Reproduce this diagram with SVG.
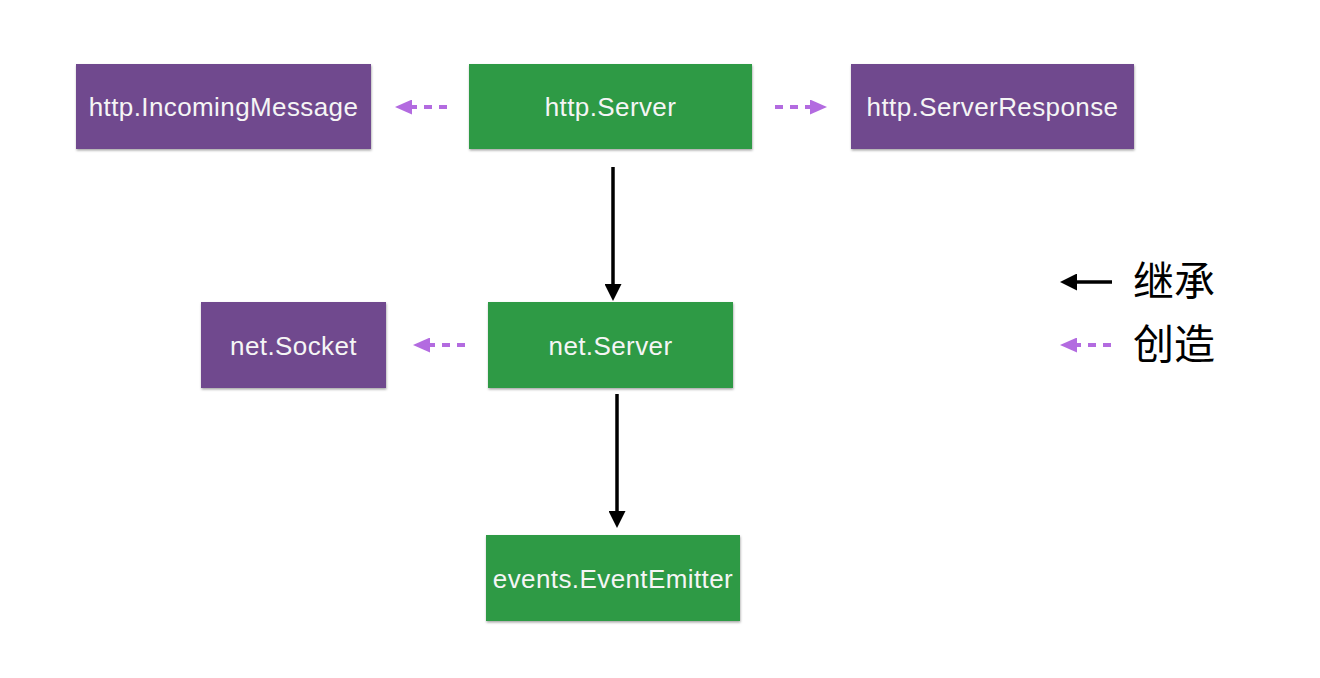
<svg xmlns="http://www.w3.org/2000/svg" width="1320" height="678" viewBox="0 0 1320 678">
  <defs>
    <filter id="sh" x="-5%" y="-10%" width="110%" height="125%">
      <feDropShadow dx="0.5" dy="1.5" stdDeviation="1.2" flood-color="#000" flood-opacity="0.35"/>
    </filter>
    <marker id="blk" viewBox="0 0 17 17" markerWidth="17" markerHeight="17" refX="1" refY="8.5" orient="auto" markerUnits="userSpaceOnUse">
      <path d="M0,0 L17,8.5 L0,17 z" fill="#000"/>
    </marker>
    <marker id="pur" viewBox="0 0 17 15" markerWidth="17" markerHeight="15" refX="1" refY="7.5" orient="auto" markerUnits="userSpaceOnUse">
      <path d="M0,0 L17,7.5 L0,15 z" fill="#b36be0"/>
    </marker>
  </defs>
  <style>
    .green { fill: #2f9a44; filter: url(#sh); }
    .purple { fill: #6f4a8e; filter: url(#sh); }
    .lbl { font-family: "Liberation Sans", Arial, sans-serif; font-size: 26px; fill: #f5f5f5; text-anchor: middle; letter-spacing: 0.4px; }
    .inh { stroke: #000; stroke-width: 3.5; fill: none; marker-end: url(#blk); }
    .cre { stroke: #b36be0; stroke-width: 4; fill: none; stroke-dasharray: 8 7; marker-end: url(#pur); }
    .leg { font-family: "Noto Sans CJK SC", "Noto Sans", sans-serif; font-size: 41px; fill: #000; }
  </style>
  <rect width="1320" height="678" fill="#fff"/>

  <g id="http-IncomingMessage">
    <rect class="purple" x="76" y="64" width="295" height="85"/>
    <text class="lbl" x="223.5" y="116">http.IncomingMessage</text>
  </g>
  <g id="http-Server">
    <rect class="green" x="469" y="64" width="283" height="85"/>
    <text class="lbl" x="610.5" y="116">http.Server</text>
  </g>
  <g id="http-ServerResponse">
    <rect class="purple" x="851" y="64" width="283" height="85"/>
    <text class="lbl" x="992.5" y="116">http.ServerResponse</text>
  </g>
  <g id="net-Socket">
    <rect class="purple" x="201" y="302" width="185" height="86"/>
    <text class="lbl" x="293.5" y="355">net.Socket</text>
  </g>
  <g id="net-Server">
    <rect class="green" x="488" y="302" width="245" height="86"/>
    <text class="lbl" x="610.5" y="355">net.Server</text>
  </g>
  <g id="events-EventEmitter">
    <rect class="green" x="486" y="535" width="254" height="86"/>
    <text class="lbl" x="613" y="588">events.EventEmitter</text>
  </g>

  <g id="connectors">
    <line class="cre" x1="447" y1="107" x2="411" y2="107"/>
    <line class="cre" x1="775" y1="107" x2="811" y2="107"/>
    <line class="inh" x1="613" y1="167" x2="613" y2="285"/>
    <line class="cre" x1="465" y1="345" x2="429" y2="345"/>
    <line class="inh" x1="617" y1="394" x2="617" y2="512"/>
  </g>

  <g id="legend">
    <line class="inh" x1="1112" y1="282" x2="1076" y2="282"/>
    <text class="leg" x="1133" y="296">继承</text>
    <line class="cre" x1="1111" y1="345" x2="1076" y2="345"/>
    <text class="leg" x="1133" y="359">创造</text>
  </g>
</svg>
